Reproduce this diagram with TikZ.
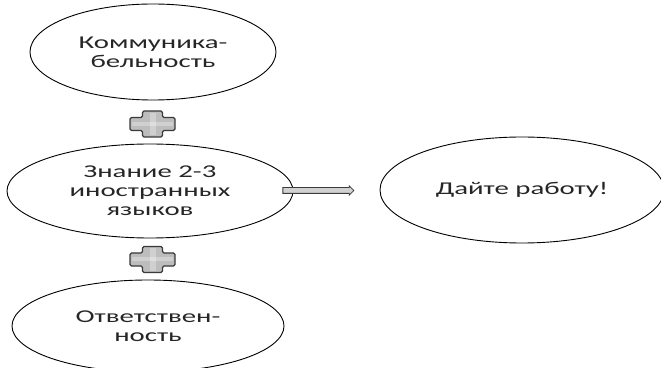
\documentclass[tikz,border=0pt]{standalone}
\usepackage{fontspec}
\setmainfont{Carlito}[FakeStretch=1.6]
\usetikzlibrary{shapes.geometric,shapes.arrows,calc}
\definecolor{plusfill}{HTML}{BDBDBD}
\definecolor{plusline}{HTML}{3A3A3A}
\definecolor{textgray}{HTML}{262626}
\tikzset{
  oval/.style={ellipse, draw=black, line width=0.9pt, fill=white, inner sep=0pt,
    align=center, text=textgray, font=\fontsize{18}{19}\selectfont},
  plussign/.pic={
    \path[draw=plusline, line width=1.3pt, fill=plusfill, rounded corners=1.5pt]
      (-10,-13) -- (10,-13) -- (10,-6.5) -- (22.5,-6.5) -- (22.5,6.5)
      -- (10,6.5) -- (10,13) -- (-10,13) -- (-10,6.5) -- (-22.5,6.5)
      -- (-22.5,-6.5) -- (-10,-6.5) -- cycle;
    \fill[white, opacity=0.3] (-3,-11) rectangle (3,11);
    \fill[white, opacity=0.3] (-20.5,-2) rectangle (20.5,2);
  },
  arrowbox/.style={single arrow, draw=plusline, line width=0.8pt, fill=plusfill!70,
    single arrow head extend=1.8pt, single arrow head indent=0pt,
    minimum height=71pt, inner xsep=0pt, inner ysep=2.5pt, anchor=west}
}
\begin{document}
\begin{tikzpicture}[x=1pt,y=1pt]
\useasboundingbox (0,0) rectangle (661,367);
\clip (0,0) rectangle (661,367);
\fill[white] (0,0) rectangle (661,367);
\node[oval, minimum width=246pt, minimum height=96pt] (e1) at (153,315) {Коммуника-\\бельность};
\pic (p1) at (152.5,243) {plussign};
\node[oval, minimum width=286pt, minimum height=94pt] (e2) at (150,176) {Знание 2-3\\иностранных\\языков};
\pic (p2) at (152.5,107.5) {plussign};
\node[oval, minimum width=272pt, minimum height=92pt] (e3) at (148,41) {Ответствен-\\ность};
\node[oval, minimum width=284pt, minimum height=106pt] (e4) at (522,177) {Дайте работу!};
\node[arrowbox] (ar) at ($(e2.east)+(-11,0.5)$) {};
\end{tikzpicture}
\end{document}
